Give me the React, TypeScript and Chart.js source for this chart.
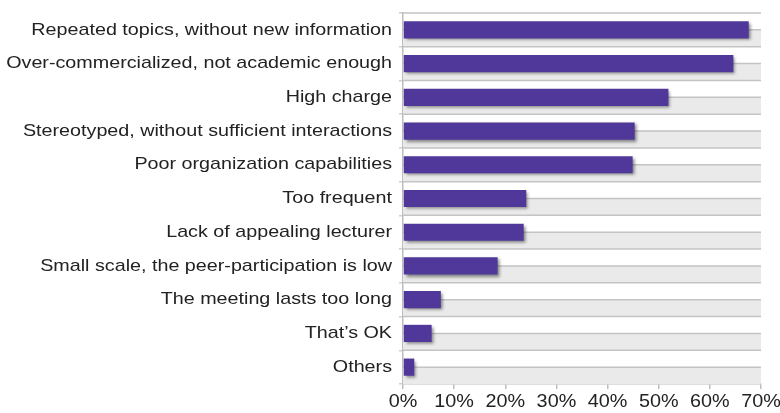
import React, { useEffect, useRef } from "react";
import { Chart, registerables } from "chart.js";

Chart.register(...registerables);

const categories = [
  "Repeated topics, without new information",
  "Over-commercialized, not academic enough",
  "High charge",
  "Stereotyped, without sufficient interactions",
  "Poor organization capabilities",
  "Too frequent",
  "Lack of appealing lecturer",
  "Small scale, the peer-participation is low",
  "The meeting lasts too long",
  "That\u2019s OK",
  "Others",
];

const values = [67.6, 64.6, 51.9, 45.3, 44.9, 24.1, 23.6, 18.5, 7.4, 5.6, 2.2];

const xTicks = [0, 10, 20, 30, 40, 50, 60, 70];

const FONT = '"Liberation Sans", Arial, Helvetica, sans-serif';

export default function App() {
  const ref = useRef<HTMLCanvasElement | null>(null);

  useEffect(() => {
    const canvas = ref.current;
    if (!canvas) return;

    const bandPlugin = {
      id: "bands",
      beforeDatasetsDraw(chart: any) {
        const { ctx, chartArea } = chart;
        const y = chart.scales.y;
        const n = categories.length;
        const half = (chartArea.bottom - chartArea.top) / n / 2;
        ctx.save();
        ctx.fillStyle = "#eaeaea";
        for (let i = 0; i < n; i++) {
          const yc = y.getPixelForValue(i);
          ctx.fillRect(chartArea.left, yc, chartArea.right - chartArea.left, half);
        }
        ctx.strokeStyle = "#c4c4c4";
        ctx.lineWidth = 1.5;
        ctx.beginPath();
        for (let i = 0; i < n; i++) {
          const yc = y.getPixelForValue(i);
          ctx.moveTo(chartArea.left, yc);
          ctx.lineTo(chartArea.right, yc);
          ctx.moveTo(chartArea.left, yc - half);
          ctx.lineTo(chartArea.right, yc - half);
        }
        ctx.stroke();
        ctx.restore();
      },
    };

    const shadowPlugin = {
      id: "barShadow",
      beforeDatasetDraw(chart: any) {
        const ctx = chart.ctx;
        ctx.save();
        ctx.shadowColor = "rgba(0,0,0,0.45)";
        ctx.shadowBlur = 3;
        ctx.shadowOffsetX = 2;
        ctx.shadowOffsetY = 2;
      },
      afterDatasetDraw(chart: any) {
        chart.ctx.restore();
      },
    };

    const labelPlugin = {
      id: "labels",
      afterDraw(chart: any) {
        const { ctx, chartArea } = chart;
        const y = chart.scales.y;
        const x = chart.scales.x;
        ctx.save();
        ctx.fillStyle = "#222222";
        ctx.font = `17px ${FONT}`;
        ctx.textAlign = "right";
        ctx.textBaseline = "middle";
        categories.forEach((c, i) => {
          const yc = y.getPixelForValue(i);
          ctx.save();
          ctx.translate(chartArea.left - 11, yc);
          ctx.scale(1.16, 1);
          ctx.fillText(c, 0, 0);
          ctx.restore();
        });
        ctx.font = `18px ${FONT}`;
        ctx.textAlign = "center";
        xTicks.forEach((v) => {
          const xp = x.getPixelForValue(v);
          ctx.save();
          ctx.translate(xp, chartArea.bottom + 18);
          ctx.scale(1.1, 1);
          ctx.fillText(v + "%", 0, 0);
          ctx.restore();
        });
        ctx.restore();
      },
    };

    const chart = new Chart(canvas, {
      type: "bar",
      data: {
        labels: categories,
        datasets: [
          {
            data: values,
            backgroundColor: "#50389a",
            borderWidth: 0,
            barPercentage: 0.51,
            categoryPercentage: 1.0,
          },
        ],
      },
      options: {
        indexAxis: "y",
        responsive: false,
        maintainAspectRatio: false,
        animation: false,
        devicePixelRatio: 1,
        layout: { padding: { left: 399, right: 19, top: 13, bottom: 24 } },
        plugins: {
          legend: { display: false },
          tooltip: { enabled: false },
        },
        scales: {
          x: {
            min: 0,
            max: 70,
            ticks: { display: false, stepSize: 10 },
            grid: {
              drawOnChartArea: false,
              drawTicks: true,
              tickLength: 5,
              color: "#bdbdbd",
              lineWidth: 1.5,
            },
            border: { display: true, color: "#bdbdbd", width: 1.5 },
          },
          y: {
            ticks: { display: false },
            grid: {
              drawOnChartArea: false,
              drawTicks: true,
              tickLength: 4,
              color: "#cfcfcf",
              lineWidth: 1.5,
              offset: true,
            },
            border: { display: true, color: "#bdbdbd", width: 1.5 },
          },
        },
      },
      plugins: [bandPlugin, shadowPlugin, labelPlugin],
    } as any);

    return () => chart.destroy();
  }, []);

  return (
    <div style={{ position: "fixed", left: 0, top: 0, width: 780, height: 413, background: "#fff" }}>
      <canvas ref={ref} width={780} height={413} style={{ width: 780, height: 413, display: "block" }} />
    </div>
  );
}
